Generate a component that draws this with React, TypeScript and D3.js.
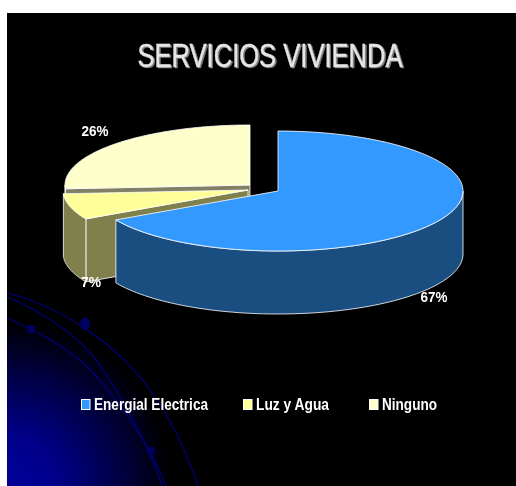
import React from "react";
import * as d3 from "d3";

const categories = ["Energial Electrica", "Luz y Agua", "Ninguno"];
const values = [67, 7, 26];
const labels = ["67%", "7%", "26%"];
const topColors = ["#3399ff", "#ffff99", "#ffffcc"];
const sideColors = ["#1a4d80", "#80804d", "#808066"];
const title = "SERVICIOS VIVIENDA";

const W = 516, H = 486;
const RX = 185, RY = 60, DEPTH = 63;
const centers: [number, number][] = [[278, 191], [248, 190], [250, 185]];
const labelPos: [number, number][] = [[434, 302], [91, 287], [95, 136]];
const legendX = [81, 243, 369];
const legendTextW = [114, 73, 55];

const slices = d3.pie<number>().sort(null)(values);
const pt = (c: [number, number], a: number, dy = 0): [number, number] => [
  c[0] + RX * Math.sin(a),
  c[1] - RY * Math.cos(a) + dy,
];
const arcPath = (c: [number, number], a0: number, a1: number, dy = 0) => {
  const n = 80;
  return d3.range(n + 1).map((i) => pt(c, a0 + ((a1 - a0) * i) / n, dy));
};
const line = d3.line();

function topPath(c: [number, number], a0: number, a1: number) {
  return line([c, ...arcPath(c, a0, a1), c]) + "Z";
}
function outerWall(c: [number, number], a0: number, a1: number) {
  const s = Math.max(a0, Math.PI / 2);
  const e = Math.min(a1, (3 * Math.PI) / 2);
  if (e <= s) return "";
  return line([...arcPath(c, s, e), ...arcPath(c, e, s, DEPTH)]) + "Z";
}
function cutWall(c: [number, number], a: number) {
  const p = pt(c, a);
  const q: [number, number] = [p[0], p[1] + DEPTH];
  const b: [number, number] = [c[0], c[1] + DEPTH];
  return line([c, p, q, b]) + "Z";
}
// Only the cut faces that look towards the viewer are drawn for each slice.
const visibleCuts: ("startAngle" | "endAngle")[][] = [[], ["startAngle"], ["startAngle"]];

const arcs1 = [
  "M7,293 C60,306 118,345 150,390 C172,420 188,456 198,486",
  "M7,297 C50,315 80,338 100,365 C122,398 148,444 162,486",
  "M7,318 C45,335 75,352 95,375 C118,400 150,445 166,486",
];
const dots: [number, number, number, number][] = [
  [85, 324, 5, 6.5],
  [31, 329, 4, 4.5],
  [151, 451, 4, 4.5],
];

export default function App() {
  const order = [2, 1, 0];
  return (
    <svg
      width={W}
      height={H}
      style={{ position: "absolute", left: 0, top: 0, background: "#fff", display: "block" }}
      fontFamily="'Liberation Sans', Arial, sans-serif"
    >
      <defs>
        <radialGradient id="glow" gradientUnits="userSpaceOnUse" cx={7} cy={486} r={165}>
          <stop offset="0" stopColor="#000099" />
          <stop offset="0.3" stopColor="#00008a" />
          <stop offset="0.7" stopColor="#000040" />
          <stop offset="1" stopColor="#000000" />
        </radialGradient>
        <filter id="blur" x="-20%" y="-20%" width="140%" height="140%">
          <feGaussianBlur stdDeviation="0.4" />
        </filter>
      </defs>
      <rect x={7} y={13} width={W - 7} height={H - 13} fill="#000" />
      <rect x={7} y={300} width={180} height={186} fill="url(#glow)" />
      {arcs1.map((d, i) => (
        <path key={i} d={d} fill="none" stroke="#000080" strokeWidth={1.2} />
      ))}
      {dots.map(([x, y, rx, ry], i) => (
        <ellipse key={i} cx={x} cy={y} rx={rx} ry={ry} fill="#000060" />
      ))}

      <g filter="url(#blur)">
        <text x={271.5} y={68} textAnchor="middle" fontSize={33} textLength={265} lengthAdjust="spacingAndGlyphs" fill="#808080" stroke="#808080" strokeWidth={0.5}>
          {title}
        </text>
        <text x={270} y={67} textAnchor="middle" fontSize={33} textLength={265} lengthAdjust="spacingAndGlyphs" fill="#e6e6e6" stroke="#e6e6e6" strokeWidth={0.4}>
          {title}
        </text>
      </g>

      {order.map((i) => {
        const s = slices[i];
        const c = centers[i];
        return (
          <g key={i} stroke="#fff" strokeWidth={1} strokeOpacity={0.8} strokeLinejoin="round">
            {visibleCuts[i].map((k) => (
              <path key={k} d={cutWall(c, s[k])} fill={sideColors[i]} />
            ))}
            <path d={outerWall(c, s.startAngle, s.endAngle)} fill={sideColors[i]} />
            <path d={topPath(c, s.startAngle, s.endAngle)} fill={topColors[i]} />
          </g>
        );
      })}

      <g filter="url(#blur)" fill="#fff" fontWeight="bold" fontSize={15.5}>
        {labels.map((t, i) => (
          <text key={i} x={labelPos[i][0]} y={labelPos[i][1]} textAnchor="middle" textLength={t.length > 2 ? 27 : 20} lengthAdjust="spacingAndGlyphs">
            {t}
          </text>
        ))}
      </g>

      {categories.map((t, i) => (
        <g key={t}>
          <rect x={legendX[i] + 0.5} y={399.5} width={8.5} height={10} fill={topColors[i]} stroke="#fff" strokeWidth={1} />
          <text x={legendX[i] + 13} y={410} fontSize={16.5} fontWeight="bold" fill="#fff" filter="url(#blur)" textLength={legendTextW[i]} lengthAdjust="spacingAndGlyphs">
            {t}
          </text>
        </g>
      ))}
    </svg>
  );
}
